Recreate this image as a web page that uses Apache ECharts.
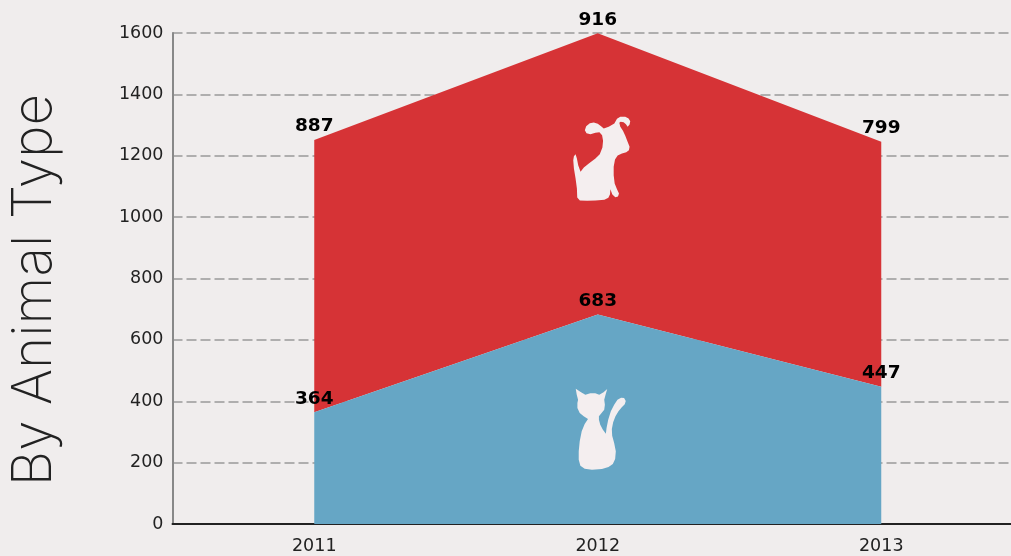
<!DOCTYPE html>
<html>
<head>
<meta charset="utf-8">
<style>
    html, body { margin: 0; padding: 0; background: #f0eded; }
    #chart { width: 1011px; height: 556px; }
</style>
<script src="https://cdn.jsdelivr.net/npm/echarts@6/dist/echarts.min.js"></script>
</head>
<body>
<div id="chart"></div>
<script>
const years = ['2011', '2012', '2013'];
const cats = [364, 683, 447];
const dogs = [887, 916, 799];
const yTicks = { min: 0, max: 1600, interval: 200 };

// silhouettes
const dogIcon = 'path://M222,100L230,86L240,80L255,80L265,85L270,93L268,103L262,110L257,102L250,96L241,95L237,98L240,110L248,122L255,137L262,155L268,170L266,180L258,186L245,190L232,196L224,208L220,230L220,255L223,280L230,297L236,310L233,319L225,321L216,313L210,297L209,312L204,323L192,329L165,331L140,332L118,331L110,322L109,295L105,265L100,235L98,210L100,198L105,192L109,205L113,225L120,245L130,232L145,220L165,205L178,192L186,172L188,152L185,135L177,126L165,128L150,132L138,129L133,120L137,108L148,99L160,97L172,101L182,108L190,115L205,110Z';
const catIcon = 'path://M106,57L122,68L135,75L150,71L165,71L177,75L190,68L201,58L196,75L192,90L194,105L192,120L184,130L176,140L176,150L180,165L188,180L197,192L199,175L204,150L212,125L222,105L232,90L243,84L252,85L257,94L254,104L245,113L235,125L226,140L219,158L215,178L216,198L222,220L227,245L225,268L218,283L205,292L185,298L155,300L133,297L120,288L115,270L115,245L118,215L124,185L133,163L143,148L130,140L118,130L111,115L111,100L113,90L109,75Z';

const chart = echarts.init(document.getElementById('chart'), null, { renderer: 'canvas' });

const valueLabel = {
    show: true,
    position: 'top',
    distance: 4,
    color: '#000',
    fontFamily: 'DejaVu Sans',
    fontWeight: 'bold',
    fontSize: 18.5
};

chart.setOption({
    animation: false,
    backgroundColor: '#f0eded',
    textStyle: { fontFamily: 'DejaVu Sans' },
    grid: { left: 172.5, top: 33, width: 850.5, height: 491, outerBoundsMode: 'none' },
    xAxis: {
        type: 'category',
        data: years,
        boundaryGap: true,
        axisTick: { show: false },
        axisLine: { lineStyle: { color: '#222', width: 2 } },
        axisLabel: { color: '#222', fontSize: 17.5, margin: 13 }
    },
    yAxis: {
        type: 'value',
        min: yTicks.min,
        max: yTicks.max,
        interval: yTicks.interval,
        axisLine: { show: true, lineStyle: { color: '#888', width: 2 } },
        axisTick: { show: false },
        axisLabel: {
            color: '#222',
            fontSize: 17.5,
            margin: 9,
            padding: [9, 0, 0, 0],
            formatter: value => String(value)
        },
        splitLine: { lineStyle: { color: '#999', width: 1.5, type: [10, 4] } }
    },
    graphic: [{
        type: 'text',
        x: 34,
        y: 290,
        rotation: Math.PI / 2,
        style: {
            text: 'By Animal Type',
            fill: '#222',
            font: '200 55px Inter',
            align: 'center',
            verticalAlign: 'middle'
        }
    }],
    series: [
        {
            name: 'Cats',
            type: 'line',
            stack: 'animals',
            data: cats,
            symbol: 'circle',
            symbolSize: 0,
            showSymbol: true,
            lineStyle: { width: 0 },
            areaStyle: { color: '#66a6c5', opacity: 1 },
            label: valueLabel,
            z: 3,
            markPoint: {
                silent: true,
                symbol: catIcon,
                symbolSize: [50, 81],
                symbolOffset: [3, 0],
                itemStyle: { color: '#f4eeef' },
                label: { show: false },
                data: [{ coord: ['2012', 309] }]
            }
        },
        {
            name: 'Dogs',
            type: 'line',
            stack: 'animals',
            data: dogs,
            symbol: 'circle',
            symbolSize: 0,
            showSymbol: true,
            lineStyle: { width: 0 },
            areaStyle: { color: '#d63336', opacity: 1 },
            label: valueLabel,
            z: 2,
            markPoint: {
                silent: true,
                symbol: dogIcon,
                symbolSize: [57, 84],
                symbolOffset: [4, 0],
                itemStyle: { color: '#f4eeef' },
                label: { show: false },
                data: [{ coord: ['2012', 1190] }]
            }
        }
    ]
});

window.addEventListener('resize', () => chart.resize());
</script>
</body>
</html>
